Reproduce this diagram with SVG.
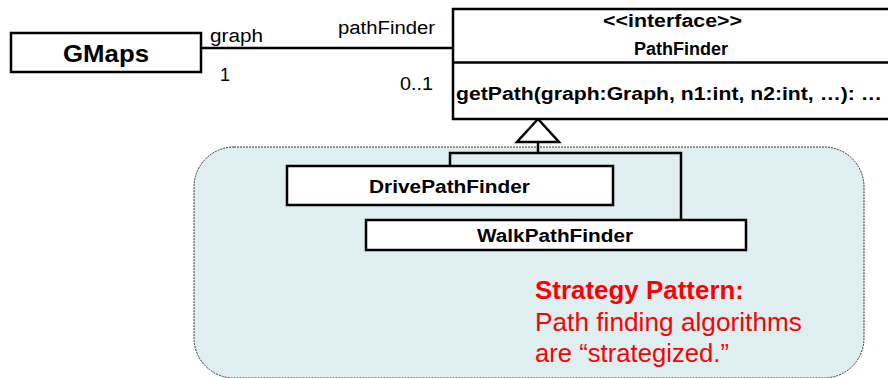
<svg xmlns="http://www.w3.org/2000/svg" width="888" height="378" viewBox="0 0 888 378">
  <style>
    .box { fill: #ffffff; stroke: #000000; stroke-width: 2.5; }
    .line { fill: none; stroke: #000000; stroke-width: 2.5; }
    .b { font-family: "Liberation Sans", Arial, sans-serif; font-weight: bold; fill: #000000; }
    .r { font-family: "Liberation Sans", Arial, sans-serif; fill: #000000; font-size: 18px; }
    .red { font-family: "Liberation Sans", Arial, sans-serif; fill: #ff0000; font-size: 25px; }
  </style>
  <rect width="888" height="378" fill="#ffffff"/>
  <g id="strategy-region">
    <rect x="194" y="147" width="670" height="231" rx="40" ry="40" fill="#dfeef1" stroke="#333333" stroke-width="1" stroke-dasharray="2,1"/>
  </g>
  <g id="connectors">
    <line class="line" x1="201" y1="48" x2="453" y2="48"/>
    <polyline class="line" points="450,166 450,153 681,153 681,220"/>
    <line class="line" x1="538" y1="142" x2="538" y2="153"/>
    <polygon points="538,119 517,142 559,142" fill="#ffffff" stroke="#000000" stroke-width="2.5" stroke-linejoin="miter"/>
    <text class="r" x="210" y="42" textLength="53" lengthAdjust="spacingAndGlyphs">graph</text>
    <text class="r" x="220" y="81">1</text>
    <text class="r" x="338" y="34" textLength="97" lengthAdjust="spacingAndGlyphs">pathFinder</text>
    <text class="r" x="400" y="90" textLength="33" lengthAdjust="spacingAndGlyphs">0..1</text>
  </g>
  <g id="GMaps">
    <rect class="box" x="11" y="33" width="190" height="39"/>
    <text class="b" x="63" y="62" font-size="24.5" textLength="86" lengthAdjust="spacingAndGlyphs">GMaps</text>
  </g>
  <g id="PathFinder">
    <rect class="box" x="453" y="9" width="440" height="110"/>
    <line class="line" x1="453" y1="62.5" x2="893" y2="62.5"/>
    <text class="b" x="603" y="27" font-size="18" textLength="139" lengthAdjust="spacingAndGlyphs">&lt;&lt;interface&gt;&gt;</text>
    <text class="b" x="634" y="55" font-size="18" textLength="94" lengthAdjust="spacingAndGlyphs">PathFinder</text>
    <text class="b" x="456" y="100" font-size="18" textLength="426" lengthAdjust="spacingAndGlyphs">getPath(graph:Graph, n1:int, n2:int, …): …</text>
  </g>
  <g id="DrivePathFinder">
    <rect class="box" x="287" y="166" width="326" height="39"/>
    <text class="b" x="369" y="193" font-size="18" textLength="161" lengthAdjust="spacingAndGlyphs">DrivePathFinder</text>
  </g>
  <g id="WalkPathFinder">
    <rect class="box" x="366" y="220" width="380" height="30"/>
    <text class="b" x="477" y="242" font-size="18" textLength="156" lengthAdjust="spacingAndGlyphs">WalkPathFinder</text>
  </g>
  <g id="note">
    <text class="red" x="535" y="299" font-weight="bold" textLength="209" lengthAdjust="spacingAndGlyphs">Strategy Pattern:</text>
    <text class="red" x="535" y="331" textLength="267" lengthAdjust="spacingAndGlyphs">Path finding algorithms</text>
    <text class="red" x="535" y="362" textLength="194" lengthAdjust="spacingAndGlyphs">are “strategized.”</text>
  </g>
</svg>
